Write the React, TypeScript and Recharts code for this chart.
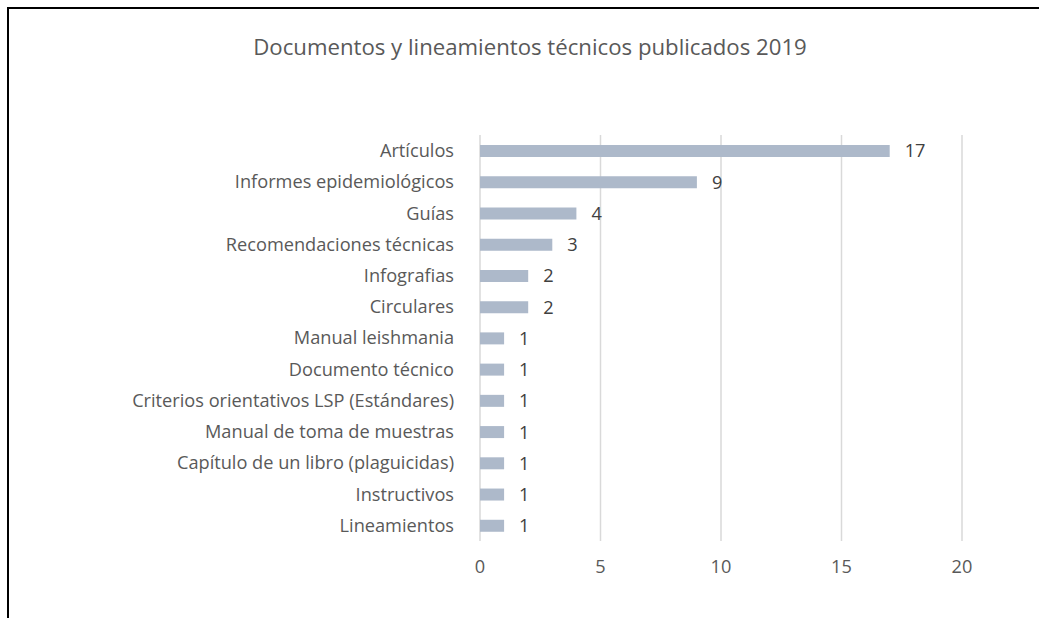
import React from "react";
import { BarChart, Bar, XAxis, YAxis, CartesianGrid, LabelList } from "recharts";

const categories = [
  "Artículos",
  "Informes epidemiológicos",
  "Guías",
  "Recomendaciones técnicas",
  "Infografias",
  "Circulares",
  "Manual leishmania",
  "Documento técnico",
  "Criterios orientativos LSP (Estándares)",
  "Manual de toma de muestras",
  "Capítulo de un libro (plaguicidas)",
  "Instructivos",
  "Lineamientos",
];
const counts = [17, 9, 4, 3, 2, 2, 1, 1, 1, 1, 1, 1, 1];
const xTicks = [0, 5, 10, 15, 20];

const data = categories.map((name, i) => ({ name, value: counts[i] }));

const FONT = "'Open Sans', 'Noto Sans', sans-serif";
const FS = 18.2;

export default function App() {
  return (
    <div
      style={{
        position: "absolute",
        left: 0,
        top: 0,
        width: 1039,
        height: 618,
        overflow: "hidden",
        background: "#fff",
        fontFamily: FONT,
      }}
    >
      <div
        style={{
          position: "absolute",
          left: 7,
          top: 7,
          width: 1200,
          height: 800,
          borderTop: "2px solid #000",
          borderLeft: "2px solid #000",
        }}
      />
      <div
        style={{
          position: "absolute",
          left: 0,
          width: 1060,
          top: 31,
          textAlign: "center",
          fontSize: 22.2,
          color: "#595959",
        }}
      >
        Documentos y lineamientos técnicos publicados 2019
      </div>
      <div style={{ position: "absolute", left: 0, top: 0 }}>
        <BarChart
          width={1039}
          height={618}
          data={data}
          layout="vertical"
          margin={{ top: 135, right: 77, bottom: 37, left: 0 }}
        >
          <CartesianGrid horizontal={false} stroke="#d9d9d9" strokeWidth={1.5} />
          <XAxis
            type="number"
            domain={[0, 20]}
            ticks={xTicks}
            axisLine={false}
            tickLine={false}
            tickSize={0}
            tickMargin={19}
            height={40}
            tick={{ fontSize: FS, fill: "#595959", fontFamily: FONT }}
          />
          <YAxis
            type="category"
            dataKey="name"
            width={480}
            axisLine={false}
            tickLine={false}
            tickSize={0}
            tickMargin={26}
            interval={0}
            tick={{ fontSize: FS, fill: "#595959", fontFamily: FONT }}
          />
          <Bar dataKey="value" fill="#adb9ca" barSize={12} isAnimationActive={false}>
            <LabelList
              dataKey="value"
              position="right"
              offset={15}
              fill="#404040"
              fontSize={FS}
              fontFamily={FONT}
            />
          </Bar>
        </BarChart>
      </div>
    </div>
  );
}
